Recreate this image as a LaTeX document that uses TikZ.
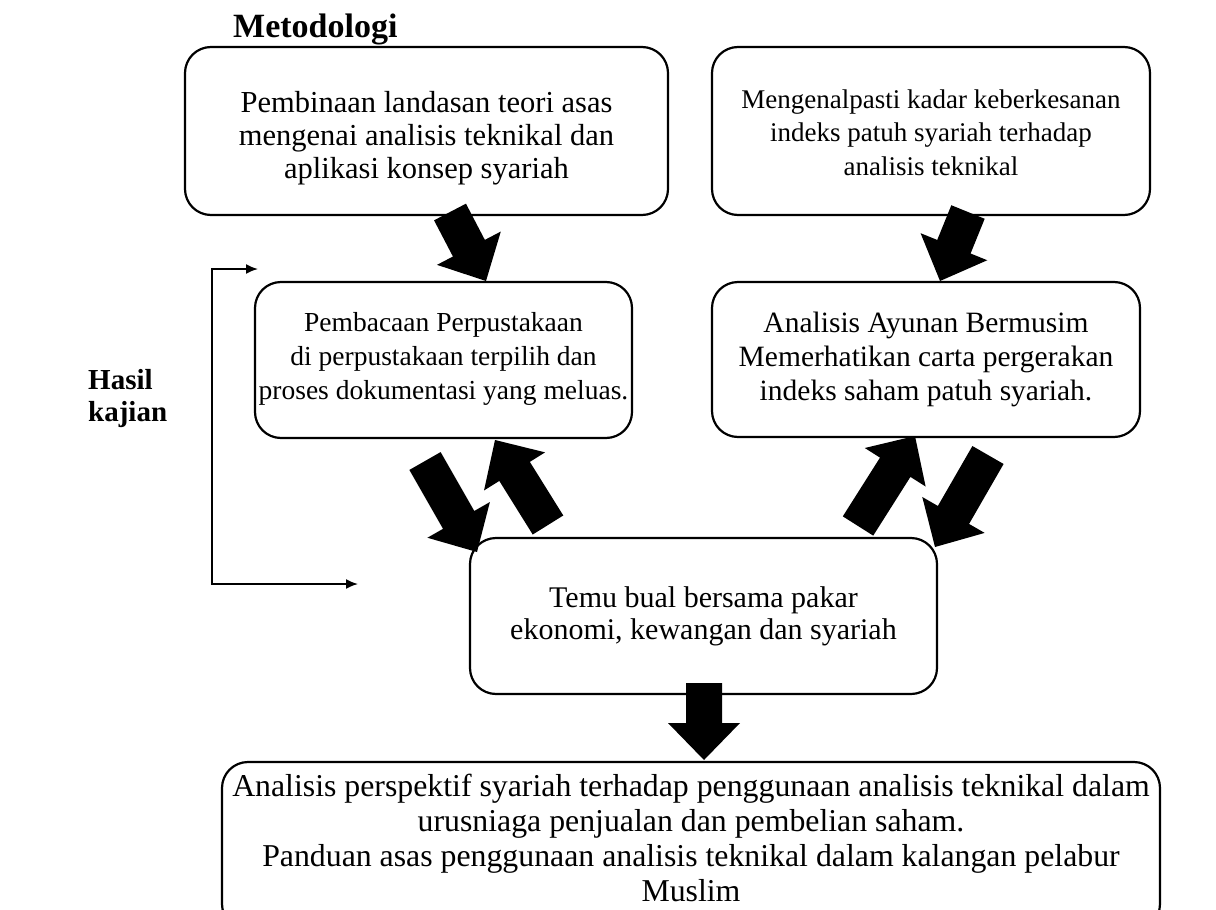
\documentclass[tikz,border=0pt]{standalone}
\usepackage{fontspec}
\setmainfont{Liberation Serif}
\usetikzlibrary{calc,arrows.meta}
\tikzset{
  frame/.style={draw, line width=2.2pt, rounded corners=26pt, inner sep=0pt},
  boxtext/.style={align=center, inner sep=0pt},
  heading/.style={font=\bfseries\fontsize{29}{32}\selectfont, inner sep=0pt},
  feedback/.style={line width=1.8pt, {Latex[length=12pt,width=10pt]}-{Latex[length=12pt,width=10pt]}},
}
\newcommand\blockarrow[2]{%
  \coordinate (ba-b) at ($(#2)!37pt!(#1)$);
  \fill ($(#1)!18pt!90:(#2)$) -- ($(ba-b)!18pt!-90:(#1)$) -- ($(ba-b)!36pt!-90:(#1)$)
    -- (#2) -- ($(ba-b)!36pt!90:(#1)$) -- ($(ba-b)!18pt!90:(#1)$) -- ($(#1)!18pt!-90:(#2)$) -- cycle;
}
\begin{document}
\begin{tikzpicture}[x=1pt,y=-1pt]
\useasboundingbox (0,0) rectangle (1216,910);
\fill[white] (0,0) rectangle (1216,910);

\node[heading, font=\bfseries\fontsize{34}{36}\selectfont, anchor=west] (metod) at (233,29) {Metodologi};
\node[heading, align=left, anchor=west] (hasil) at (88,399) {Hasil\\kajian};

% frames
\node[frame, minimum width=483pt, minimum height=168pt] (b1) at (426.5,131) {};
\node[frame, minimum width=438pt, minimum height=168pt] (b2) at (931,131) {};
\node[frame, minimum width=377pt, minimum height=156pt] (b3) at (443.5,360) {};
\node[frame, minimum width=428pt, minimum height=155pt] (b4) at (926,359.5) {};
\node[frame, minimum width=467pt, minimum height=156pt] (b5) at (703.5,616) {};
\begin{scope}
\clip (0,0) rectangle (1216,910);
\node[frame, minimum width=938pt, minimum height=168pt] (b6) at (691,846) {};
\end{scope}

% texts
\node[boxtext, font=\fontsize{30.5}{33}\selectfont] (t1) at ($(b1.center)+(0,7)$)
  {Pembinaan landasan teori asas\\mengenai analisis teknikal dan\\aplikasi konsep syariah};
\node[boxtext, font=\fontsize{27}{33.5}\selectfont] (t2) at ($(b2.center)+(0,1.5)$)
  {Mengenalpasti kadar keberkesanan\\indeks patuh syariah terhadap\\analisis teknikal};
\node[boxtext, font=\fontsize{27.5}{34}\selectfont] (t3) at ($(b3.center)+(0,-1)$)
  {Pembacaan Perpustakaan\\di perpustakaan terpilih dan\\proses dokumentasi yang meluas.};
\node[boxtext, font=\fontsize{29.5}{34}\selectfont] (t4) at ($(b4.center)+(0,-0.5)$)
  {Analisis Ayunan Bermusim\\Memerhatikan carta pergerakan\\indeks saham patuh syariah.};
\node[boxtext, font=\fontsize{30}{32}\selectfont] (t5) at ($(b5.center)+(0,0.5)$)
  {Temu bual bersama pakar\\ekonomi, kewangan dan syariah};
\node[boxtext, font=\fontsize{31.8}{35}\selectfont] (t6) at ($(b6.north)+(0,77)$)
  {Analisis perspektif syariah terhadap penggunaan analisis teknikal dalam\\urusniaga penjualan dan pembelian saham.\\Panduan asas penggunaan analisis teknikal dalam kalangan pelabur\\Muslim};

% block arrows
\coordinate (a1t) at (450,212); \coordinate (a1h) at (486,281);
\coordinate (a2t) at (968,212); \coordinate (a2h) at (940,281);
\coordinate (a3t) at (425,461); \coordinate (a3h) at (477,552);
\coordinate (a4t) at (548,525); \coordinate (a4h) at (495,440);
\coordinate (a5t) at (858,526); \coordinate (a5h) at (915,436);
\coordinate (a6t) at (988,455); \coordinate (a6h) at (935,547);
\coordinate (a7t) at (704,683); \coordinate (a7h) at (704,760);
\blockarrow{a1t}{a1h}
\blockarrow{a2t}{a2h}
\blockarrow{a3t}{a3h}
\blockarrow{a4t}{a4h}
\blockarrow{a5t}{a5h}
\blockarrow{a6t}{a6h}
\blockarrow{a7t}{a7h}

% feedback connector
\coordinate (fbtop) at (258,269);
\coordinate (fbbot) at (358,584);
\coordinate (fbcorner) at (212,269);
\draw[feedback] (fbtop) -- (fbcorner) |- (fbbot);
\end{tikzpicture}
\end{document}
